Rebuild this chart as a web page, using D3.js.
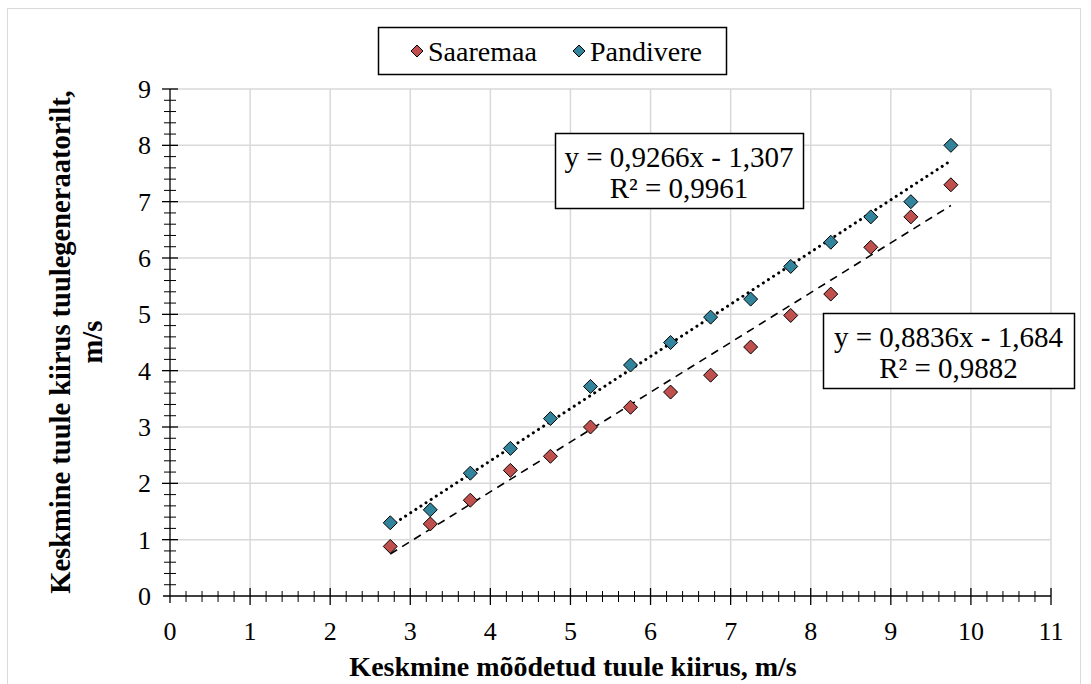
<!DOCTYPE html>
<html>
<head>
<meta charset="utf-8">
<script src="https://cdn.jsdelivr.net/npm/d3@7"></script>
<style>
  body { margin: 0; background: #fff; }
</style>
</head>
<body>
<svg id="chart" width="1091" height="684"></svg>
<script>
// Data
const xValues = [2.75, 3.25, 3.75, 4.25, 4.75, 5.25, 5.75, 6.25, 6.75, 7.25, 7.75, 8.25, 8.75, 9.25, 9.75];
const saaremaa = [0.88, 1.28, 1.70, 2.23, 2.48, 3.00, 3.35, 3.62, 3.92, 4.42, 4.98, 5.36, 6.19, 6.73, 7.30];
const pandivere = [1.30, 1.53, 2.18, 2.62, 3.15, 3.72, 4.10, 4.50, 4.95, 5.27, 5.85, 6.28, 6.73, 7.00, 8.00];
const seriesNames = ["Saaremaa", "Pandivere"];
const trendSlope = [0.8836, 0.9266];
const trendIntercept = [-1.684, -1.307];
const trendLabels = [["y = 0,8836x - 1,684", "R² = 0,9882"], ["y = 0,9266x - 1,307", "R² = 0,9961"]];
const xTicks = d3.range(0, 12);
const yTicks = d3.range(0, 10);
const xTitle = "Keskmine mõõdetud tuule kiirus, m/s";
const yTitle = ["Keskmine tuule kiirus tuulegeneraatorilt,", "m/s"];

const colors = ["#c0504d", "#31849b"];
const serif = "Liberation Serif";

const svg = d3.select("#chart");

// Outer chart border
svg.append("rect")
  .attr("x", 7.5).attr("y", 8.5)
  .attr("width", 1073).attr("height", 700)
  .attr("fill", "none")
  .attr("stroke", "#d9d9d9")
  .attr("stroke-width", 1);

const margin = {left: 170, top: 89, right: 1051, bottom: 596};

const x = d3.scaleLinear().domain([0, 11]).range([margin.left, margin.right]);
const y = d3.scaleLinear().domain([0, 9]).range([margin.bottom, margin.top]);

// Grid lines
const grid = svg.append("g");
grid.selectAll(".vgrid")
  .data(xTicks.filter(d => d > 0))
  .enter().append("line")
  .attr("x1", d => x(d)).attr("x2", d => x(d))
  .attr("y1", y(0)).attr("y2", y(9))
  .attr("stroke", "#d9d9d9").attr("stroke-width", 1.5);
grid.selectAll(".hgrid")
  .data(yTicks.filter(d => d > 0))
  .enter().append("line")
  .attr("x1", x(0)).attr("x2", x(11))
  .attr("y1", d => y(d)).attr("y2", d => y(d))
  .attr("stroke", "#d9d9d9").attr("stroke-width", 1.5);

// Axes
const axisG = svg.append("g").attr("stroke", "#000");
axisG.append("line")
  .attr("x1", x(0) - 7).attr("x2", x(11))
  .attr("y1", y(0)).attr("y2", y(0))
  .attr("stroke-width", 1.3);
axisG.append("line")
  .attr("x1", x(0)).attr("x2", x(0))
  .attr("y1", y(9)).attr("y2", y(0) + 7)
  .attr("stroke-width", 1.3);

// x ticks (major and minor cross the axis)
const xMinor = d3.range(0, 55).map(i => i * 0.2).filter(d => Math.abs(d - Math.round(d)) > 1e-6);
axisG.selectAll(".xmaj")
  .data(xTicks.filter(d => d > 0))
  .enter().append("line")
  .attr("x1", d => x(d)).attr("x2", d => x(d))
  .attr("y1", y(0) - 8).attr("y2", y(0) + 9)
  .attr("stroke-width", 1.3);
axisG.selectAll(".xmin")
  .data(xMinor)
  .enter().append("line")
  .attr("x1", d => x(d)).attr("x2", d => x(d))
  .attr("y1", y(0) - 5).attr("y2", y(0) + 6)
  .attr("stroke-width", 1);

const yMinor = d3.range(0, 45).map(i => i * 0.2).filter(d => Math.abs(d - Math.round(d)) > 1e-6);
axisG.selectAll(".ymaj")
  .data(yTicks.filter(d => d > 0))
  .enter().append("line")
  .attr("x1", x(0) - 8).attr("x2", x(0) + 8)
  .attr("y1", d => y(d)).attr("y2", d => y(d))
  .attr("stroke-width", 1.3);
axisG.selectAll(".ymin")
  .data(yMinor)
  .enter().append("line")
  .attr("x1", x(0) - 6).attr("x2", x(0) + 6)
  .attr("y1", d => y(d)).attr("y2", d => y(d))
  .attr("stroke-width", 1);

// Tick labels
svg.append("g").selectAll("text")
  .data(xTicks)
  .enter().append("text")
  .attr("x", d => x(d))
  .attr("y", y(0) + 44)
  .attr("text-anchor", "middle")
  .attr("font-family", serif)
  .attr("font-size", 26)
  .text(d => d);

svg.append("g").selectAll("text")
  .data(yTicks)
  .enter().append("text")
  .attr("x", x(0) - 19)
  .attr("y", d => y(d) + 9)
  .attr("text-anchor", "end")
  .attr("font-family", serif)
  .attr("font-size", 26)
  .text(d => d);

// Axis titles
svg.append("text")
  .attr("x", 573)
  .attr("y", 676)
  .attr("text-anchor", "middle")
  .attr("font-family", serif)
  .attr("font-size", 28)
  .attr("font-weight", "bold")
  .text(xTitle);

const yt = svg.append("text")
  .attr("transform", "translate(70,342) rotate(-90)")
  .attr("text-anchor", "middle")
  .attr("font-family", serif)
  .attr("font-size", 28.5)
  .attr("font-weight", "bold");
yt.selectAll("tspan")
  .data(yTitle)
  .enter().append("tspan")
  .attr("x", 0)
  .attr("dy", (d, i) => i === 0 ? 0 : 32)
  .text(d => d);

// Trendlines
const allSeries = [saaremaa, pandivere];
const dashes = ["8,6", "0.1,6"];
allSeries.forEach((vals, s) => {
  const x0 = d3.min(xValues), x1 = d3.max(xValues);
  svg.append("line")
    .attr("x1", x(x0)).attr("y1", y(trendSlope[s] * x0 + trendIntercept[s]))
    .attr("x2", x(x1)).attr("y2", y(trendSlope[s] * x1 + trendIntercept[s]))
    .attr("stroke", "#000")
    .attr("stroke-width", s === 1 ? 3 : 1.6)
    .attr("stroke-linecap", s === 1 ? "round" : "butt")
    .attr("stroke-dasharray", dashes[s]);
});

// Markers
const diamond = r => `M0,${-r}L${r},0L0,${r}L${-r},0Z`;
allSeries.forEach((vals, s) => {
  svg.append("g").selectAll("path")
    .data(vals)
    .enter().append("path")
    .attr("transform", (d, i) => `translate(${x(xValues[i])},${y(d)})`)
    .attr("d", diamond(7))
    .attr("fill", colors[s])
    .attr("stroke", "#000")
    .attr("stroke-width", 1);
});

// Trend equation boxes
const boxes = [
  {x: 823, y: 313, w: 251, h: 75},
  {x: 555, y: 133, w: 248, h: 75}
];
boxes.forEach((b, s) => {
  svg.append("rect")
    .attr("x", b.x + 0.5).attr("y", b.y + 0.5)
    .attr("width", b.w).attr("height", b.h)
    .attr("fill", "#fff")
    .attr("stroke", "#000").attr("stroke-width", 1.5);
  svg.append("text")
    .attr("x", b.x + b.w / 2)
    .attr("y", b.y + 34)
    .attr("text-anchor", "middle")
    .attr("font-family", serif)
    .attr("font-size", 29)
    .text(trendLabels[s][0]);
  svg.append("text")
    .attr("x", b.x + b.w / 2)
    .attr("y", b.y + 65)
    .attr("text-anchor", "middle")
    .attr("font-family", serif)
    .attr("font-size", 29)
    .text(trendLabels[s][1]);
});

// Legend
const legend = svg.append("g");
legend.append("rect")
  .attr("x", 378.5).attr("y", 27.5)
  .attr("width", 348).attr("height", 47)
  .attr("fill", "#fff")
  .attr("stroke", "#000").attr("stroke-width", 1.5);
const legendX = [417, 579];
seriesNames.forEach((name, s) => {
  legend.append("path")
    .attr("transform", `translate(${legendX[s]},51)`)
    .attr("d", diamond(6))
    .attr("fill", colors[s])
    .attr("stroke", "#000").attr("stroke-width", 1);
  legend.append("text")
    .attr("x", legendX[s] + 11)
    .attr("y", 61)
    .attr("font-family", serif)
    .attr("font-size", 28)
    .text(name);
});
</script>
</body>
</html>
